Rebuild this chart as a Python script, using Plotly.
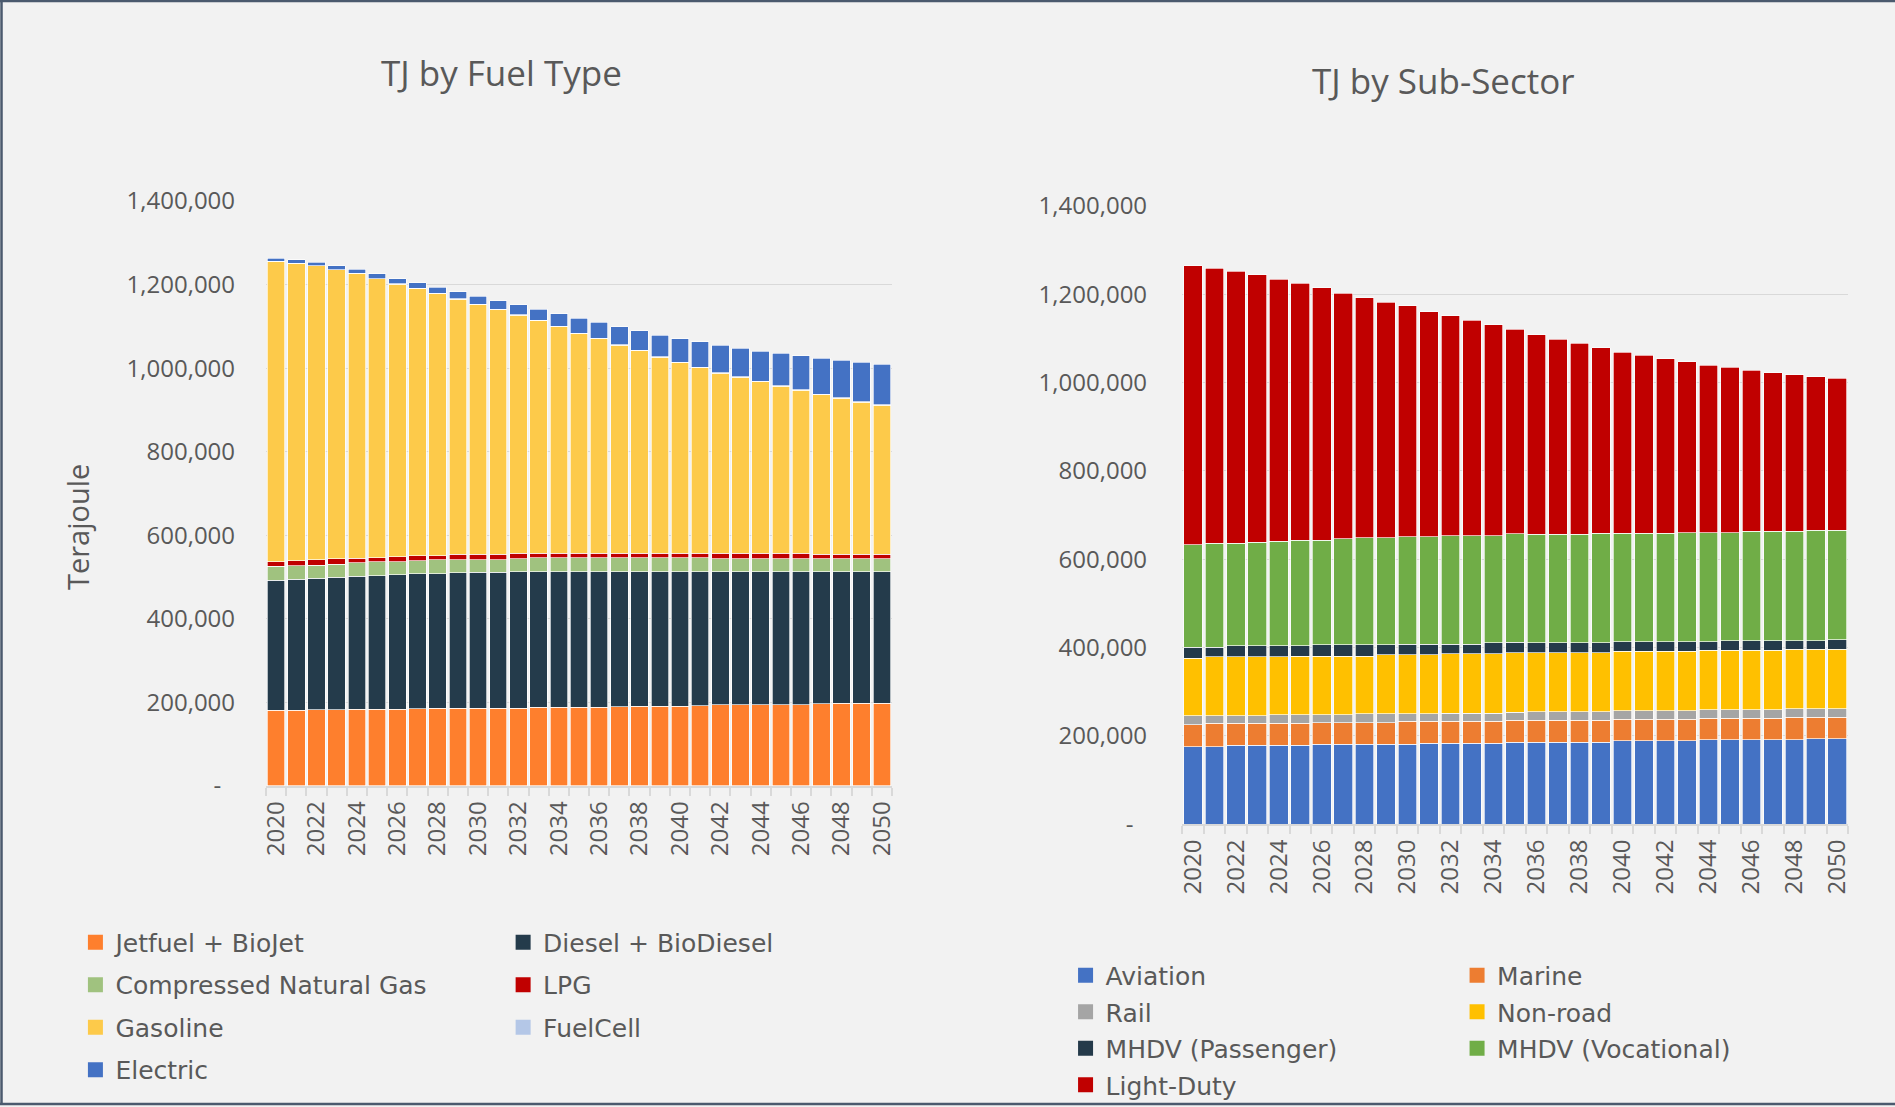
import plotly.graph_objects as go

years = list(range(2020, 2051))
tick_years = years[::2]

# TJ by fuel type (stacked bottom -> top)
jetfuel = [181700, 181700, 182000, 182000, 184000, 184000, 184000, 184500, 186500, 186500,
           186500, 186500, 186500, 189000, 189000, 189000, 189000, 189500, 191000, 191000,
           191000, 191500, 194500, 194500, 194500, 194500, 194500, 197000, 197500, 197500, 197700]
diesel = [310800, 313300, 315300, 317700, 318000, 319000, 321300, 323200, 322000, 323500,
          324500, 324500, 326800, 324300, 324300, 324300, 324300, 323800, 322300, 322300,
          322300, 321800, 318800, 318800, 318800, 318800, 318800, 316300, 315800, 315800, 315600]
cng = [33500, 31800, 31100, 31100, 32000, 33400, 31900, 31100, 32700, 32000,
       31000, 31000, 30300, 32700, 32700, 32700, 32700, 32700, 32700, 32700,
       32700, 32700, 30300, 30300, 30300, 30300, 30300, 30300, 30300, 30300, 30300]
lpg = [10400, 12800, 13600, 13600, 11100, 10300, 11900, 12700, 10300, 12700,
       12700, 12700, 13500, 11100, 11100, 11100, 11100, 11100, 11100, 11100,
       11100, 11100, 13500, 13500, 13500, 13500, 13500, 11100, 11100, 11100, 11100]
gasoline = [719200, 711200, 703200, 691200, 681700, 667400, 652200, 639400, 626700, 610700,
            597900, 585200, 570000, 557200, 542100, 526100, 513300, 498200, 484600, 469400,
            456700, 443900, 431200, 420800, 410400, 400000, 389600, 381700, 373700, 363300, 356100]
fuelcell = [300, 300, 300, 400, 400, 400, 500, 500, 500, 600,
            600, 600, 700, 700, 700, 800, 800, 800, 900, 900,
            900, 1000, 1000, 1000, 1100, 1100, 1100, 1200, 1200, 1200, 1300]
electric = [7500, 8000, 8500, 9000, 10000, 11000, 12500, 13500, 15000, 16500,
            19000, 21000, 23500, 26500, 30500, 35500, 39000, 43500, 47000, 51500,
            56000, 61000, 65500, 69000, 72000, 77000, 81500, 86000, 89500, 95000, 97500]

# TJ by sub-sector (stacked bottom -> top)
aviation = [175400, 176100, 178400, 178400, 178400, 179200, 181400, 181400, 181400, 181400,
            181400, 183700, 183700, 183700, 183700, 186000, 186000, 186000, 186000, 186000,
            189000, 189000, 189000, 189000, 191300, 191300, 191300, 191300, 191300, 193500, 193500]
marine = [49900, 52200, 49900, 49900, 49900, 49100, 48400, 48400, 48400, 48400,
          51400, 49100, 49100, 49100, 49100, 49900, 49900, 49900, 49900, 49900,
          49100, 49100, 49100, 49100, 49100, 49100, 49100, 49100, 51400, 49200, 49200]
rail = [20400, 17400, 17400, 17400, 19700, 19700, 18200, 18200, 20400, 20400,
        17400, 17400, 18900, 18900, 18900, 17800, 18900, 18900, 18900, 18900,
        18900, 18900, 18900, 18900, 18900, 18900, 18900, 18900, 18900, 18900, 18900]
nonroad = [130800, 133100, 133100, 133100, 130800, 133000, 133000, 133000, 130800, 133800,
           133800, 133800, 134600, 134600, 134600, 134600, 133800, 133800, 133800, 133800,
           134600, 134600, 134600, 134600, 134600, 134600, 134600, 134600, 134600, 134600, 134600]
mhdv_pass = [24200, 22600, 24900, 24900, 24900, 22700, 25000, 25000, 25000, 22000,
             24200, 24200, 21900, 21900, 24200, 24200, 21900, 21900, 21900, 21900,
             21900, 21900, 21900, 21900, 19600, 21900, 21900, 21900, 19700, 19700, 21900]
mhdv_voc = [232800, 234400, 232900, 235100, 237400, 239700, 237400, 240400, 242600, 242600,
            242700, 242700, 245700, 245700, 243400, 245700, 245700, 245700, 245700, 248000,
            245000, 245000, 245000, 247200, 247200, 244900, 247200, 247200, 247200, 250200, 248000]
light_duty = [630700, 623800, 615500, 605700, 593600, 581500, 571700, 555900, 543900, 534000,
              522700, 509900, 497100, 487200, 477400, 462300, 452500, 442600, 433600, 420800,
              410900, 403400, 395900, 386100, 378600, 374000, 365000, 359700, 354400, 346800, 343800]

y_ticks = [0, 200000, 400000, 600000, 800000, 1000000, 1200000, 1400000]
y_labels = ['-\u2007', '200,000', '400,000', '600,000', '800,000', '1,000,000', '1,200,000', '1,400,000']

fuel_series = [
    ('Jetfuel + BioJet', jetfuel, '#fe7f2d', 'legend'),
    ('Diesel + BioDiesel', diesel, '#243b4b', 'legend2'),
    ('Compressed Natural Gas', cng, '#a0c27f', 'legend'),
    ('LPG', lpg, '#c00000', 'legend2'),
    ('Gasoline', gasoline, '#fdca4a', 'legend'),
    ('FuelCell', fuelcell, '#b4c7e7', 'legend2'),
    ('Electric', electric, '#4472c4', 'legend'),
]
sector_series = [
    ('Aviation', aviation, '#4472c4', 'legend3'),
    ('Marine', marine, '#ed7d31', 'legend4'),
    ('Rail', rail, '#a5a5a5', 'legend3'),
    ('Non-road', nonroad, '#ffc000', 'legend4'),
    ('MHDV (Passenger)', mhdv_pass, '#243a4a', 'legend3'),
    ('MHDV (Vocational)', mhdv_voc, '#70ad47', 'legend4'),
    ('Light-Duty', light_duty, '#c00000', 'legend3'),
]

fig = go.Figure()

for series, xa, ya in [(fuel_series, 'x', 'y'), (sector_series, 'x2', 'y2')]:
    for name, vals, col, leg in series:
        fig.add_trace(go.Bar(x=years, y=vals, name=name, marker_color=col,
                             marker_line=dict(color='rgba(255,255,255,0.85)', width=0.8),
                             xaxis=xa, yaxis=ya, showlegend=False))
    # legend entries with bigger square swatches
    for name, vals, col, leg in series:
        fig.add_trace(go.Scatter(x=[None], y=[None], mode='markers', name=name,
                                 marker=dict(symbol='square', size=15, color=col),
                                 xaxis=xa, yaxis=ya, legend=leg, legendgroup=name))

grey = '#595959'
xcommon = dict(range=[2019.5, 2050.5], tickvals=tick_years, ticktext=[str(y) for y in tick_years],
               tickangle=-90, ticks='', showgrid=False, zeroline=False,
               showline=True, linecolor='#d9d9d9', linewidth=1.5,
               tickfont=dict(family='Open Sans', size=24, color=grey), ticklabelstandoff=4,
               minor=dict(ticks='outside', tickvals=[y - 0.5 for y in years] + [2050.5],
                          ticklen=8, tickcolor='#d9d9d9', tickwidth=1.5, showgrid=False))
ycommon = dict(range=[0, 1400000], tickvals=y_ticks, ticktext=y_labels, ticks='',
               showgrid=True, gridcolor='#d9d9d9', gridwidth=1, zeroline=False, showline=False,
               tickfont=dict(family='Open Sans', size=24, color=grey))

fig.update_layout(
    width=1895, height=1107,
    margin=dict(l=0, r=0, t=0, b=0, autoexpand=False),
    paper_bgcolor='#f2f2f2', plot_bgcolor='#f2f2f2',
    barmode='stack', bargap=0.135,
    font=dict(family='Open Sans', color=grey),
    xaxis=dict(domain=[0.1404, 0.4707], anchor='y', automargin=False, **xcommon),
    yaxis=dict(domain=[0.29, 0.8184], anchor='x', automargin=False, ticklabelstandoff=30, **ycommon),
    xaxis2=dict(domain=[0.6238, 0.9752], anchor='y2', automargin=False, **xcommon),
    yaxis2=dict(domain=[0.2554, 0.8139], anchor='x2', automargin=False, ticklabelstandoff=34, **ycommon),
)

leg_font = dict(family='DejaVu Sans', size=25, color=grey)
for key, x, y, gap in [('legend', 0.0398, 0.1694, 7), ('legend2', 0.2655, 0.1694, 7),
                       ('legend3', 0.5623, 0.1395, 1), ('legend4', 0.7689, 0.1395, 1)]:
    fig.update_layout({key: dict(x=x, y=y, xanchor='left', yanchor='top', orientation='v',
                                 traceorder='grouped', tracegroupgap=gap, font=leg_font,
                                 bgcolor='rgba(0,0,0,0)', borderwidth=0)})

fig.add_annotation(text='TJ by Fuel Type', x=0.2644, y=1 - 73 / 1107, xref='paper', yref='paper',
                   xanchor='center', yanchor='middle', showarrow=False,
                   font=dict(family='Open Sans', size=35, color=grey))
fig.add_annotation(text='TJ by Sub-Sector', x=0.762, y=1 - 80 / 1107, xref='paper', yref='paper',
                   xanchor='center', yanchor='middle', showarrow=False,
                   font=dict(family='Open Sans', size=35, color=grey))
fig.add_annotation(text='Terajoule', textangle=-90, x=77 / 1895, y=1 - 527 / 1107,
                   xref='paper', yref='paper', xanchor='center', yanchor='middle', showarrow=False,
                   font=dict(family='Open Sans', size=29, color=grey))

# frame around the chart area
border = '#4b5a6e'
fig.add_shape(type='line', xref='paper', yref='paper', x0=0, x1=1, y0=0.9991, y1=0.9991,
              line=dict(color=border, width=2.5))
fig.add_shape(type='line', xref='paper', yref='paper', x0=0, x1=1, y0=0.0027, y1=0.0027,
              line=dict(color=border, width=2.5))
fig.add_shape(type='line', xref='paper', yref='paper', x0=0.0008, x1=0.0008, y0=0.0027, y1=0.9991,
              line=dict(color=border, width=2.5))

fig.write_html('out.html', config={'displayModeBar': False},
               post_script="document.body.style.margin='0px';")
